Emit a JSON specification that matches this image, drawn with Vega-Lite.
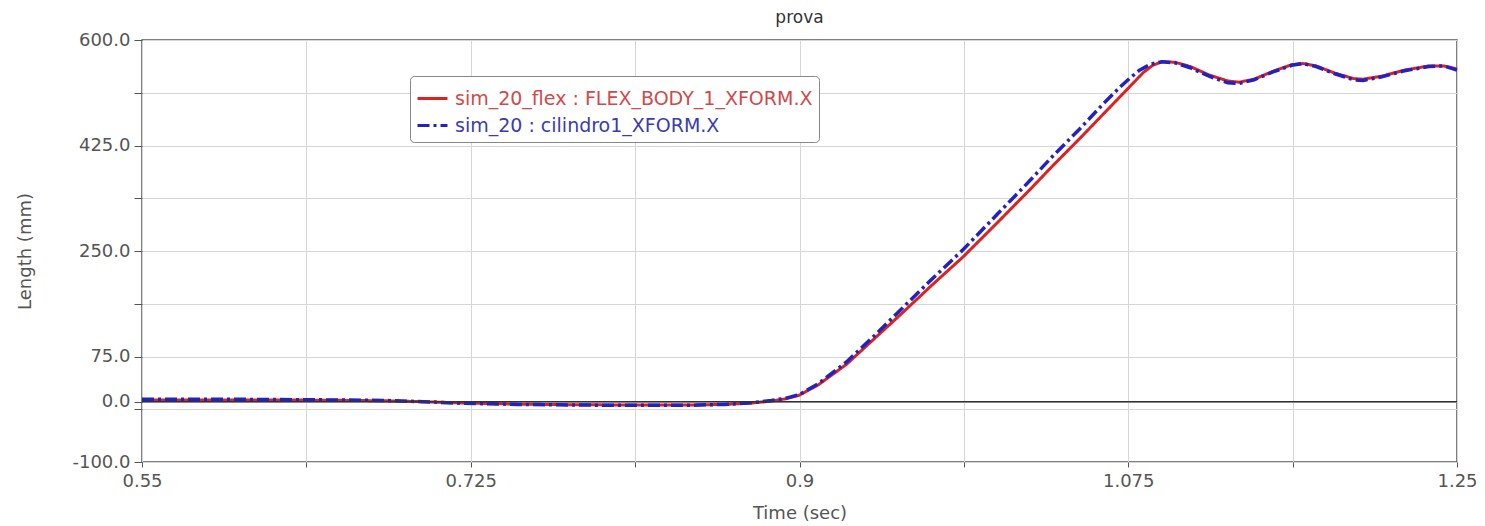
{
  "$schema": "https://vega.github.io/schema/vega-lite/v6.json",
  "width": 1315,
  "height": 422,
  "autosize": {"type": "none"},
  "padding": {"left": 142, "top": 40, "right": 28, "bottom": 64},
  "background": "white",
  "title": {"text": "prova", "fontSize": 17, "font": "DejaVu Sans", "fontWeight": "normal", "color": "#333", "anchor": "middle", "offset": 4},
  "config": {
    "view": {"stroke": "#555", "strokeWidth": 1.5},
    "axis": {"labelFont": "DejaVu Sans", "titleFont": "DejaVu Sans", "labelFontSize": 18, "titleFontSize": 18, "labelColor": "#555", "titleColor": "#555", "titleFontWeight": "normal", "tickColor": "#555", "gridColor": "#d6d6d6", "gridWidth": 1, "domain": false}
  },
  "datasets": {
    "curves": [
      {"t": 0.55, "v": 3, "s": "sim_20_flex : FLEX_BODY_1_XFORM.X"},
      {"t": 0.6, "v": 3, "s": "sim_20_flex : FLEX_BODY_1_XFORM.X"},
      {"t": 0.65, "v": 2.5, "s": "sim_20_flex : FLEX_BODY_1_XFORM.X"},
      {"t": 0.68, "v": 1.5, "s": "sim_20_flex : FLEX_BODY_1_XFORM.X"},
      {"t": 0.7, "v": 0, "s": "sim_20_flex : FLEX_BODY_1_XFORM.X"},
      {"t": 0.72, "v": -2, "s": "sim_20_flex : FLEX_BODY_1_XFORM.X"},
      {"t": 0.75, "v": -4, "s": "sim_20_flex : FLEX_BODY_1_XFORM.X"},
      {"t": 0.78, "v": -5, "s": "sim_20_flex : FLEX_BODY_1_XFORM.X"},
      {"t": 0.81, "v": -5.5, "s": "sim_20_flex : FLEX_BODY_1_XFORM.X"},
      {"t": 0.84, "v": -5.5, "s": "sim_20_flex : FLEX_BODY_1_XFORM.X"},
      {"t": 0.86, "v": -4.5, "s": "sim_20_flex : FLEX_BODY_1_XFORM.X"},
      {"t": 0.875, "v": -2, "s": "sim_20_flex : FLEX_BODY_1_XFORM.X"},
      {"t": 0.885, "v": 1, "s": "sim_20_flex : FLEX_BODY_1_XFORM.X"},
      {"t": 0.893, "v": 5, "s": "sim_20_flex : FLEX_BODY_1_XFORM.X"},
      {"t": 0.9, "v": 11, "s": "sim_20_flex : FLEX_BODY_1_XFORM.X"},
      {"t": 0.91, "v": 28, "s": "sim_20_flex : FLEX_BODY_1_XFORM.X"},
      {"t": 0.925, "v": 62, "s": "sim_20_flex : FLEX_BODY_1_XFORM.X"},
      {"t": 0.94, "v": 105, "s": "sim_20_flex : FLEX_BODY_1_XFORM.X"},
      {"t": 0.955, "v": 148, "s": "sim_20_flex : FLEX_BODY_1_XFORM.X"},
      {"t": 0.97, "v": 192, "s": "sim_20_flex : FLEX_BODY_1_XFORM.X"},
      {"t": 0.987, "v": 240, "s": "sim_20_flex : FLEX_BODY_1_XFORM.X"},
      {"t": 1.005, "v": 296, "s": "sim_20_flex : FLEX_BODY_1_XFORM.X"},
      {"t": 1.0224, "v": 351, "s": "sim_20_flex : FLEX_BODY_1_XFORM.X"},
      {"t": 1.035, "v": 392, "s": "sim_20_flex : FLEX_BODY_1_XFORM.X"},
      {"t": 1.049, "v": 436, "s": "sim_20_flex : FLEX_BODY_1_XFORM.X"},
      {"t": 1.062, "v": 478, "s": "sim_20_flex : FLEX_BODY_1_XFORM.X"},
      {"t": 1.0756, "v": 522, "s": "sim_20_flex : FLEX_BODY_1_XFORM.X"},
      {"t": 1.083, "v": 546, "s": "sim_20_flex : FLEX_BODY_1_XFORM.X"},
      {"t": 1.088, "v": 558, "s": "sim_20_flex : FLEX_BODY_1_XFORM.X"},
      {"t": 1.093, "v": 564, "s": "sim_20_flex : FLEX_BODY_1_XFORM.X"},
      {"t": 1.1, "v": 563, "s": "sim_20_flex : FLEX_BODY_1_XFORM.X"},
      {"t": 1.108, "v": 556, "s": "sim_20_flex : FLEX_BODY_1_XFORM.X"},
      {"t": 1.118, "v": 542, "s": "sim_20_flex : FLEX_BODY_1_XFORM.X"},
      {"t": 1.128, "v": 532, "s": "sim_20_flex : FLEX_BODY_1_XFORM.X"},
      {"t": 1.134, "v": 530, "s": "sim_20_flex : FLEX_BODY_1_XFORM.X"},
      {"t": 1.142, "v": 535, "s": "sim_20_flex : FLEX_BODY_1_XFORM.X"},
      {"t": 1.152, "v": 548, "s": "sim_20_flex : FLEX_BODY_1_XFORM.X"},
      {"t": 1.162, "v": 559, "s": "sim_20_flex : FLEX_BODY_1_XFORM.X"},
      {"t": 1.168, "v": 561, "s": "sim_20_flex : FLEX_BODY_1_XFORM.X"},
      {"t": 1.175, "v": 557, "s": "sim_20_flex : FLEX_BODY_1_XFORM.X"},
      {"t": 1.185, "v": 545, "s": "sim_20_flex : FLEX_BODY_1_XFORM.X"},
      {"t": 1.195, "v": 536, "s": "sim_20_flex : FLEX_BODY_1_XFORM.X"},
      {"t": 1.2, "v": 535, "s": "sim_20_flex : FLEX_BODY_1_XFORM.X"},
      {"t": 1.21, "v": 540, "s": "sim_20_flex : FLEX_BODY_1_XFORM.X"},
      {"t": 1.222, "v": 550, "s": "sim_20_flex : FLEX_BODY_1_XFORM.X"},
      {"t": 1.235, "v": 557, "s": "sim_20_flex : FLEX_BODY_1_XFORM.X"},
      {"t": 1.243, "v": 557, "s": "sim_20_flex : FLEX_BODY_1_XFORM.X"},
      {"t": 1.25, "v": 552, "s": "sim_20_flex : FLEX_BODY_1_XFORM.X"},

      {"t": 0.55, "v": 4, "s": "sim_20 : cilindro1_XFORM.X"},
      {"t": 0.6, "v": 4, "s": "sim_20 : cilindro1_XFORM.X"},
      {"t": 0.65, "v": 3, "s": "sim_20 : cilindro1_XFORM.X"},
      {"t": 0.68, "v": 2, "s": "sim_20 : cilindro1_XFORM.X"},
      {"t": 0.7, "v": 0, "s": "sim_20 : cilindro1_XFORM.X"},
      {"t": 0.72, "v": -2.5, "s": "sim_20 : cilindro1_XFORM.X"},
      {"t": 0.75, "v": -4.5, "s": "sim_20 : cilindro1_XFORM.X"},
      {"t": 0.78, "v": -5.5, "s": "sim_20 : cilindro1_XFORM.X"},
      {"t": 0.81, "v": -6, "s": "sim_20 : cilindro1_XFORM.X"},
      {"t": 0.84, "v": -6, "s": "sim_20 : cilindro1_XFORM.X"},
      {"t": 0.86, "v": -4.5, "s": "sim_20 : cilindro1_XFORM.X"},
      {"t": 0.875, "v": -1.5, "s": "sim_20 : cilindro1_XFORM.X"},
      {"t": 0.885, "v": 2, "s": "sim_20 : cilindro1_XFORM.X"},
      {"t": 0.893, "v": 6, "s": "sim_20 : cilindro1_XFORM.X"},
      {"t": 0.9, "v": 12, "s": "sim_20 : cilindro1_XFORM.X"},
      {"t": 0.91, "v": 30, "s": "sim_20 : cilindro1_XFORM.X"},
      {"t": 0.925, "v": 66, "s": "sim_20 : cilindro1_XFORM.X"},
      {"t": 0.94, "v": 110, "s": "sim_20 : cilindro1_XFORM.X"},
      {"t": 0.955, "v": 156, "s": "sim_20 : cilindro1_XFORM.X"},
      {"t": 0.97, "v": 202, "s": "sim_20 : cilindro1_XFORM.X"},
      {"t": 0.987, "v": 252, "s": "sim_20 : cilindro1_XFORM.X"},
      {"t": 1.005, "v": 310, "s": "sim_20 : cilindro1_XFORM.X"},
      {"t": 1.0224, "v": 366, "s": "sim_20 : cilindro1_XFORM.X"},
      {"t": 1.035, "v": 408, "s": "sim_20 : cilindro1_XFORM.X"},
      {"t": 1.049, "v": 452, "s": "sim_20 : cilindro1_XFORM.X"},
      {"t": 1.062, "v": 495, "s": "sim_20 : cilindro1_XFORM.X"},
      {"t": 1.07, "v": 520, "s": "sim_20 : cilindro1_XFORM.X"},
      {"t": 1.0756, "v": 536, "s": "sim_20 : cilindro1_XFORM.X"},
      {"t": 1.081, "v": 550, "s": "sim_20 : cilindro1_XFORM.X"},
      {"t": 1.087, "v": 560, "s": "sim_20 : cilindro1_XFORM.X"},
      {"t": 1.093, "v": 564, "s": "sim_20 : cilindro1_XFORM.X"},
      {"t": 1.1, "v": 562, "s": "sim_20 : cilindro1_XFORM.X"},
      {"t": 1.108, "v": 554, "s": "sim_20 : cilindro1_XFORM.X"},
      {"t": 1.118, "v": 540, "s": "sim_20 : cilindro1_XFORM.X"},
      {"t": 1.128, "v": 529, "s": "sim_20 : cilindro1_XFORM.X"},
      {"t": 1.134, "v": 528, "s": "sim_20 : cilindro1_XFORM.X"},
      {"t": 1.142, "v": 534, "s": "sim_20 : cilindro1_XFORM.X"},
      {"t": 1.152, "v": 547, "s": "sim_20 : cilindro1_XFORM.X"},
      {"t": 1.162, "v": 558, "s": "sim_20 : cilindro1_XFORM.X"},
      {"t": 1.168, "v": 561, "s": "sim_20 : cilindro1_XFORM.X"},
      {"t": 1.175, "v": 556, "s": "sim_20 : cilindro1_XFORM.X"},
      {"t": 1.185, "v": 544, "s": "sim_20 : cilindro1_XFORM.X"},
      {"t": 1.195, "v": 534, "s": "sim_20 : cilindro1_XFORM.X"},
      {"t": 1.2, "v": 533, "s": "sim_20 : cilindro1_XFORM.X"},
      {"t": 1.21, "v": 539, "s": "sim_20 : cilindro1_XFORM.X"},
      {"t": 1.222, "v": 549, "s": "sim_20 : cilindro1_XFORM.X"},
      {"t": 1.235, "v": 556, "s": "sim_20 : cilindro1_XFORM.X"},
      {"t": 1.243, "v": 557, "s": "sim_20 : cilindro1_XFORM.X"},
      {"t": 1.25, "v": 550, "s": "sim_20 : cilindro1_XFORM.X"}
    ]
  },
  "data": {"name": "curves"},
  "layer": [
    {
      "transform": [{"filter": "datum.s == 'sim_20_flex : FLEX_BODY_1_XFORM.X'"}],
      "mark": {"type": "line", "strokeWidth": 3},
      "encoding": {
        "x": {
          "field": "t", "type": "quantitative",
          "scale": {"domain": [0.55, 1.25], "nice": false, "zero": false},
          "axis": {
            "title": "Time (sec)",
            "values": [0.55, 0.6375, 0.725, 0.8125, 0.9, 0.9875, 1.075, 1.1625, 1.25],
            "labelExpr": "(datum.value == 0.6375 || datum.value == 0.8125 || datum.value == 0.9875 || datum.value == 1.1625) ? '' : format(datum.value, '.4~g')",
            "labelFlush": false,
            "labelPadding": 5,
            "tickSize": 5,
            "titleY": 42,
            "titleBaseline": "top",
            "grid": true
          }
        },
        "y": {
          "field": "v", "type": "quantitative",
          "scale": {"domain": [-100, 600], "nice": false, "zero": false},
          "axis": {
            "title": "Length (mm)",
            "values": [600, 512.5, 425, 337.5, 250, 162.5, 75, 0, -12.5, -100],
            "labelExpr": "(datum.value == 512.5 || datum.value == 337.5 || datum.value == 162.5 || datum.value == -12.5) ? '' : replace(format(datum.value, '.1f'), '\u2212', '-')",
            "labelPadding": 4,
            "tickSize": 8,
            "titleX": -108,
            "titleY": 211,
            "grid": true
          }
        },
        "color": {"field": "s", "type": "nominal",
          "scale": {"domain": ["sim_20_flex : FLEX_BODY_1_XFORM.X", "sim_20 : cilindro1_XFORM.X"], "range": ["#dd2222", "#2222c0"]},
          "legend": {
            "title": null, "orient": "none", "legendX": 268, "legendY": 36,
            "symbolType": "stroke", "symbolSize": 900, "symbolStrokeWidth": 3,
            "labelFont": "DejaVu Sans", "labelFontSize": 19, "labelOffset": 6,
            "rowPadding": -3, "padding": 6,
            "fillColor": "white", "strokeColor": "#888", "cornerRadius": 4,
            "labelLimit": 600,
            "encode": {"labels": {"update": {"fill": {"signal": "datum.value == 'sim_20 : cilindro1_XFORM.X' ? '#3b3bb0' : '#d04a4a'"}}}}
          }
        },
        "strokeDash": {"field": "s", "type": "nominal",
          "scale": {"domain": ["sim_20_flex : FLEX_BODY_1_XFORM.X", "sim_20 : cilindro1_XFORM.X"], "range": [[1, 0], [12, 4, 3, 4]]},
          "legend": null
        }
      }
    },
    {
      "transform": [{"filter": "datum.s == 'sim_20 : cilindro1_XFORM.X'"}],
      "mark": {"type": "line", "strokeWidth": 3.5},
      "encoding": {
        "x": {"field": "t", "type": "quantitative"},
        "y": {"field": "v", "type": "quantitative"},
        "color": {"field": "s", "type": "nominal"},
        "strokeDash": {"field": "s", "type": "nominal"}
      }
    },
    {
      "transform": [{"filter": "datum.t == 0.55 && datum.s == 'sim_20 : cilindro1_XFORM.X'"}],
      "mark": {"type": "rule", "color": "#333", "strokeWidth": 1.5},
      "encoding": {"y": {"datum": 0, "type": "quantitative"}}
    }
  ]
}
